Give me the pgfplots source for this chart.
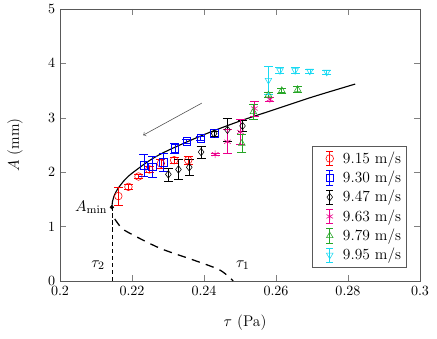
\documentclass[border=0pt]{standalone}
\usepackage{pgfplots}
\pgfplotsset{compat=1.18}
\definecolor{cyanb}{rgb}{0.1,0.85,0.95}
\definecolor{greenb}{rgb}{0.15,0.65,0.15}
\newcommand{\bigf}{\fontsize{11}{13.2}\selectfont}
\pgfplotsset{
  ebar/.style={
    only marks, mark size=2.7pt,
    error bars/.cd, y dir=both, y explicit,
    error mark options={rotate=90, mark size=3.2pt},
  },
  ebar legend/.style={
    legend image code/.code={
      \path[draw=none, fill=none, use as bounding box] (0cm,-0.2cm) rectangle (0.62cm,0.2cm);
      \draw[##1, mark=none] (0.36cm,-0.18cm) -- (0.36cm,0.18cm);
      \draw[##1, mark=none] (0.27cm,-0.18cm) -- (0.45cm,-0.18cm);
      \draw[##1, mark=none] (0.27cm,0.18cm) -- (0.45cm,0.18cm);
      \draw[##1] plot coordinates {(0.36cm,0cm)};
    }
  }
}
\begin{document}
\begin{tikzpicture}
\begin{axis}[
  scale only axis,
  width=256pt, height=193.4pt,
  xmin=0.2, xmax=0.3, ymin=0, ymax=5,
  xtick={0.2,0.22,0.24,0.26,0.28,0.3},
  xticklabels={0.2,0.22,0.24,0.26,0.28,0.3},
  ytick={0,1,2,3,4,5},
  tick pos=both, tick align=inside,
  xlabel={$\tau$ (Pa)}, ylabel={$A$ (mm)},
  xlabel style={at={(axis description cs:0.514,-0.153)}, anchor=center, font=\bigf},
  ylabel style={at={(axis description cs:-0.125,0.5)}, anchor=center, font=\bigf},
  axis line style={gray!70!black},
  ebar legend,
  legend style={at={(rel axis cs:0.964,0.048)}, anchor=south east,
    draw=gray!70!black, font=\bigf, inner sep=2pt},
  legend cell align=left,
  clip=false,
]
% model branches
\addplot[black, line width=0.8pt, smooth, forget plot] coordinates {
  (0.2144,1.355) (0.2146,1.47) (0.2150,1.56) (0.2160,1.69) (0.2180,1.86)
  (0.2200,1.98) (0.2250,2.22) (0.2300,2.40) (0.2400,2.69) (0.2500,2.94)
  (0.2600,3.16) (0.2700,3.38) (0.2820,3.62)};
\addplot[black, line width=0.9pt, dash pattern=on 6pt off 4.5pt, smooth, forget plot] coordinates {
  (0.2152,1.14) (0.2170,0.98) (0.2194,0.876) (0.2278,0.60) (0.2370,0.386) (0.2444,0.20) (0.2481,0.0)};
\addplot[black, densely dashed, thin, forget plot] coordinates {(0.2144,0) (0.2144,1.355)};
\addplot[black, only marks, mark=*, mark size=1.3pt, forget plot] coordinates {(0.2144,1.355)};

\addplot[red, mark=o, ebar] coordinates {
  (0.2162,1.56) +- (0,0.16)
  (0.2190,1.73) +- (0,0.05)
  (0.2218,1.92) +- (0,0.04)
  (0.2248,2.05) +- (0,0.05)
  (0.2280,2.16) +- (0,0.08)
  (0.2317,2.22) +- (0,0.05)
  (0.2356,2.22) +- (0,0.08)};
\addlegendentry{9.15 m/s}
\addplot[blue, mark=square, ebar] coordinates {
  (0.2233,2.13) +- (0,0.20)
  (0.2257,2.10) +- (0,0.20)
  (0.2287,2.18) +- (0,0.17)
  (0.2319,2.44) +- (0,0.10)
  (0.2352,2.57) +- (0,0.04)
  (0.2391,2.62) +- (0,0.04)
  (0.2428,2.71) +- (0,0.05)};
\addlegendentry{9.30 m/s}
\addplot[black, mark=diamond, ebar] coordinates {
  (0.2301,1.96) +- (0,0.12)
  (0.2329,2.05) +- (0,0.18)
  (0.2359,2.09) +- (0,0.15)
  (0.2392,2.37) +- (0,0.11)
  (0.2428,2.71) +- (0,0.05)
  (0.2465,2.78) +- (0,0.21)
  (0.2507,2.85) +- (0,0.10)};
\addlegendentry{9.47 m/s}
\addplot[magenta, mark=asterisk, ebar] coordinates {
  (0.2431,2.33) +- (0,0.02)
  (0.2465,2.56) +- (0,0.22)
  (0.2501,2.74) +- (0,0.23)
  (0.2540,3.17) +- (0,0.14)
  (0.2583,3.34) +- (0,0.04)};
\addlegendentry{9.63 m/s}
\addplot[greenb, mark=triangle, ebar] coordinates {
  (0.2505,2.53) +- (0,0.17)
  (0.2537,3.11) +- (0,0.14)
  (0.2579,3.42) +- (0,0.05)
  (0.2616,3.50) +- (0,0.05)
  (0.2660,3.52) +- (0,0.05)};
\addlegendentry{9.79 m/s}
\addplot[cyanb, mark=triangle, mark options={rotate=180}, ebar] coordinates {
  (0.2579,3.69) +- (0,0.25)
  (0.2611,3.87) +- (0,0.05)
  (0.2653,3.87) +- (0,0.06)
  (0.2694,3.86) +- (0,0.04)
  (0.2741,3.84) +- (0,0.04)};
\addlegendentry{9.95 m/s}

\draw[->, gray!60!black] (axis cs:0.2394,3.27) -- (axis cs:0.2231,2.68);
\node[anchor=east, inner sep=2pt, font=\bigf] at (axis cs:0.2140,1.36) {$A_{\min}$};
\node[font=\bigf] at (axis cs:0.2106,0.29) {$\tau_2$};
\node[font=\bigf] at (axis cs:0.2508,0.29) {$\tau_1$};
\coordinate (bl) at (rel axis cs:0,0);
\coordinate (tr) at (rel axis cs:1,1);
\end{axis}
\pgfresetboundingbox
\path ([shift={(-42.7pt,-41.2pt)}]bl) rectangle ([shift={(12.1pt,6.4pt)}]tr);
\end{tikzpicture}
\end{document}
